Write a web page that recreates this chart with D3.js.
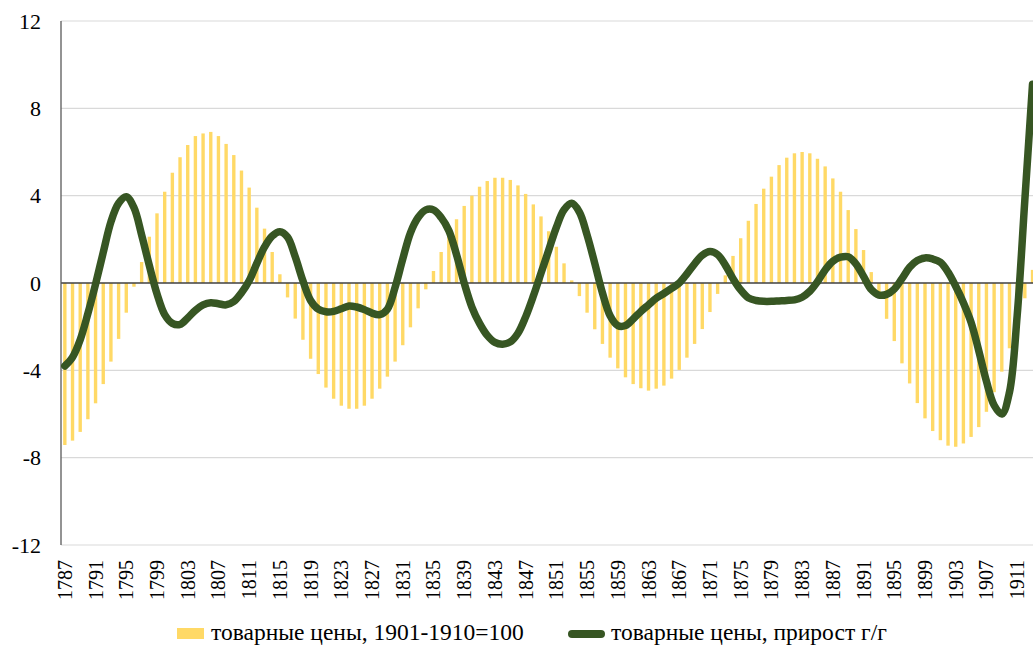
<!DOCTYPE html>
<html>
<head>
<meta charset="utf-8">
<script src="https://cdn.jsdelivr.net/npm/d3@7"></script>
<style>
  html, body { margin: 0; padding: 0; background: #fff; overflow: hidden; }
  svg { display: block; }
</style>
</head>
<body>
<svg id="chart" width="1033" height="646"></svg>
<script>
// ---- data ----
const years = [
  1787,1788,1789,1790,1791,1792,1793,1794,1795,1796,1797,1798,1799,1800,
  1801,1802,1803,1804,1805,1806,1807,1808,1809,1810,1811,1812,1813,1814,1815,
  1816,1817,1818,1819,1820,1821,1822,1823,1824,1825,1826,1827,1828,1829,1830,
  1831,1832,1833,1834,1835,1836,1837,1838,1839,1840,1841,1842,1843,1844,1845,
  1846,1847,1848,1849,1850,1851,1852,1853,1854,1855,1856,1857,1858,1859,1860,
  1861,1862,1863,1864,1865,1866,1867,1868,1869,1870,1871,1872,1873,1874,1875,
  1876,1877,1878,1879,1880,1881,1882,1883,1884,1885,1886,1887,1888,1889,1890,
  1891,1892,1893,1894,1895,1896,1897,1898,1899,1900,1901,1902,1903,1904,1905,
  1906,1907,1908,1909,1910,1911,1912,1913
];
// товарные цены, 1901-1910=100 (bars)
const priceLevel = [
  -7.42,-7.22,-6.82,-6.24,-5.51,-4.63,-3.60,-2.56,-1.36,-0.17,0.96,2.12,3.19,4.18,
  5.05,5.76,6.32,6.73,6.85,6.92,6.73,6.37,5.86,5.15,4.37,3.45,2.49,1.42,0.40,
  -0.66,-1.63,-2.60,-3.47,-4.17,-4.79,-5.30,-5.62,-5.76,-5.76,-5.62,-5.30,-4.84,-4.29,-3.60,
  -2.85,-2.03,-1.16,-0.29,0.55,1.42,2.20,2.92,3.53,4.00,4.41,4.67,4.82,4.82,4.72,
  4.47,4.08,3.60,3.05,2.37,1.66,0.90,0.12,-0.60,-1.36,-2.12,-2.79,-3.42,-3.91,-4.32,
  -4.63,-4.82,-4.93,-4.84,-4.70,-4.38,-3.98,-3.42,-2.79,-2.11,-1.33,-0.50,0.35,1.24,2.05,
  2.85,3.62,4.32,4.87,5.40,5.74,5.94,6.00,5.94,5.69,5.34,4.79,4.18,3.34,2.47,
  1.51,0.50,-0.55,-1.64,-2.66,-3.68,-4.60,-5.50,-6.20,-6.78,-7.20,-7.45,-7.50,-7.35,-7.05,
  -6.60,-5.90,-5.00,-4.06,-2.99,-1.90,-0.70,0.60
];
// товарные цены, прирост г/г (line)
const priceGrowth = [
  -3.80,-3.40,-2.60,-1.40,-0.05,1.40,2.80,3.65,3.95,3.45,2.20,0.80,-0.50,-1.45,
  -1.85,-1.90,-1.60,-1.25,-1.00,-0.90,-0.95,-1.00,-0.85,-0.45,0.10,0.90,1.65,2.15,2.35,
  2.10,1.20,0.10,-0.80,-1.20,-1.32,-1.30,-1.18,-1.05,-1.10,-1.22,-1.38,-1.45,-1.20,-0.20,
  1.10,2.30,3.00,3.35,3.35,3.00,2.40,1.30,0.00,-1.10,-1.85,-2.40,-2.72,-2.80,-2.70,
  -2.30,-1.55,-0.60,0.45,1.50,2.55,3.35,3.65,3.25,2.20,0.90,-0.45,-1.50,-1.95,-1.95,
  -1.65,-1.30,-1.00,-0.70,-0.48,-0.25,0.00,0.42,0.88,1.27,1.44,1.30,0.82,0.20,-0.32,
  -0.68,-0.80,-0.84,-0.84,-0.82,-0.80,-0.77,-0.65,-0.38,0.06,0.60,1.00,1.18,1.20,0.88,
  0.30,-0.30,-0.55,-0.52,-0.28,0.20,0.72,1.03,1.15,1.10,0.95,0.50,-0.15,-0.90,-1.80,
  -3.10,-4.50,-5.60,-6.00,-5.00,-1.50,3.80,9.10
];
const yTicks = [-12, -8, -4, 0, 4, 8, 12];
const xTickYears = years.filter((d, i) => i % 4 === 0);
const seriesNames = ["товарные цены, 1901-1910=100", "товарные цены, прирост г/г"];

// ---- layout ----
const FONT = "'Liberation Serif', 'DejaVu Serif', 'Times New Roman', serif";
const svg = d3.select("#chart").attr("font-family", FONT);
const plotLeft = 61, plotTop = 21, plotBottom = 545;
const step = 7.68;
const plotRight = plotLeft + step * years.length;

const x = d3.scaleBand().domain(years).range([plotLeft, plotRight]).paddingInner(0.56).paddingOuter(0.28);
const xc = d => x(d) + x.bandwidth() / 2;
const y = d3.scaleLinear().domain([-12, 12]).range([plotBottom, plotTop]);

const barColor = "#FFD966";
const lineColor = "#375623";

// gridlines
svg.append("g")
  .selectAll("line")
  .data(yTicks.filter(t => t !== 0))
  .join("line")
  .attr("x1", plotLeft).attr("x2", plotRight)
  .attr("y1", d => y(d)).attr("y2", d => y(d))
  .attr("stroke", "#d9d9d9").attr("stroke-width", 1.2);

// bars
svg.append("g")
  .selectAll("rect")
  .data(years.map((yr, i) => ({ yr, v: priceLevel[i] })))
  .join("rect")
  .attr("x", d => x(d.yr))
  .attr("width", x.bandwidth())
  .attr("y", d => y(Math.max(0, d.v)))
  .attr("height", d => Math.abs(y(d.v) - y(0)))
  .attr("fill", barColor);

// zero line
svg.append("line")
  .attr("x1", plotLeft).attr("x2", plotRight)
  .attr("y1", y(0)).attr("y2", y(0))
  .attr("stroke", "#404040").attr("stroke-width", 1.3);

// y axis line
svg.append("line")
  .attr("x1", plotLeft).attr("x2", plotLeft)
  .attr("y1", plotTop).attr("y2", plotBottom)
  .attr("stroke", "#595959").attr("stroke-width", 1.3);

// line series
const line = d3.line()
  .x((d, i) => xc(years[i]))
  .y(d => y(d))
  .curve(d3.curveCatmullRom.alpha(0.5));
svg.append("path")
  .datum(priceGrowth)
  .attr("d", line)
  .attr("fill", "none")
  .attr("stroke", lineColor)
  .attr("stroke-width", 7.5)
  .attr("stroke-linejoin", "round")
  .attr("stroke-linecap", "round");

// y tick labels
svg.append("g")
  .selectAll("text")
  .data(yTicks)
  .join("text")
  .attr("x", 41)
  .attr("y", d => y(d))
  .attr("dy", "0.35em")
  .attr("text-anchor", "end")
  .attr("font-family", FONT)
  .attr("font-size", 22)
  .attr("fill", "#000")
  .text(d => d);

// x tick labels (rotated)
svg.append("g")
  .selectAll("text")
  .data(xTickYears)
  .join("text")
  .attr("transform", d => `translate(${xc(d)},560) rotate(-90)`)
  .attr("dy", "0.35em")
  .attr("text-anchor", "end")
  .attr("font-family", FONT)
  .attr("font-size", 20)
  .attr("fill", "#000")
  .text(d => d);

// legend
const lg = svg.append("g");
lg.append("rect")
  .attr("x", 177).attr("y", 628).attr("width", 27).attr("height", 11)
  .attr("fill", barColor);
lg.append("text")
  .attr("x", 211).attr("y", 640)
  .attr("font-family", FONT)
  .attr("font-size", 23.5)
  .attr("fill", "#000")
  .text(seriesNames[0]);
lg.append("line")
  .attr("x1", 572).attr("x2", 601).attr("y1", 634).attr("y2", 634)
  .attr("stroke", lineColor).attr("stroke-width", 8).attr("stroke-linecap", "round");
lg.append("text")
  .attr("x", 611).attr("y", 640)
  .attr("font-family", FONT)
  .attr("font-size", 23.5)
  .attr("fill", "#000")
  .text(seriesNames[1]);
</script>
</body>
</html>
